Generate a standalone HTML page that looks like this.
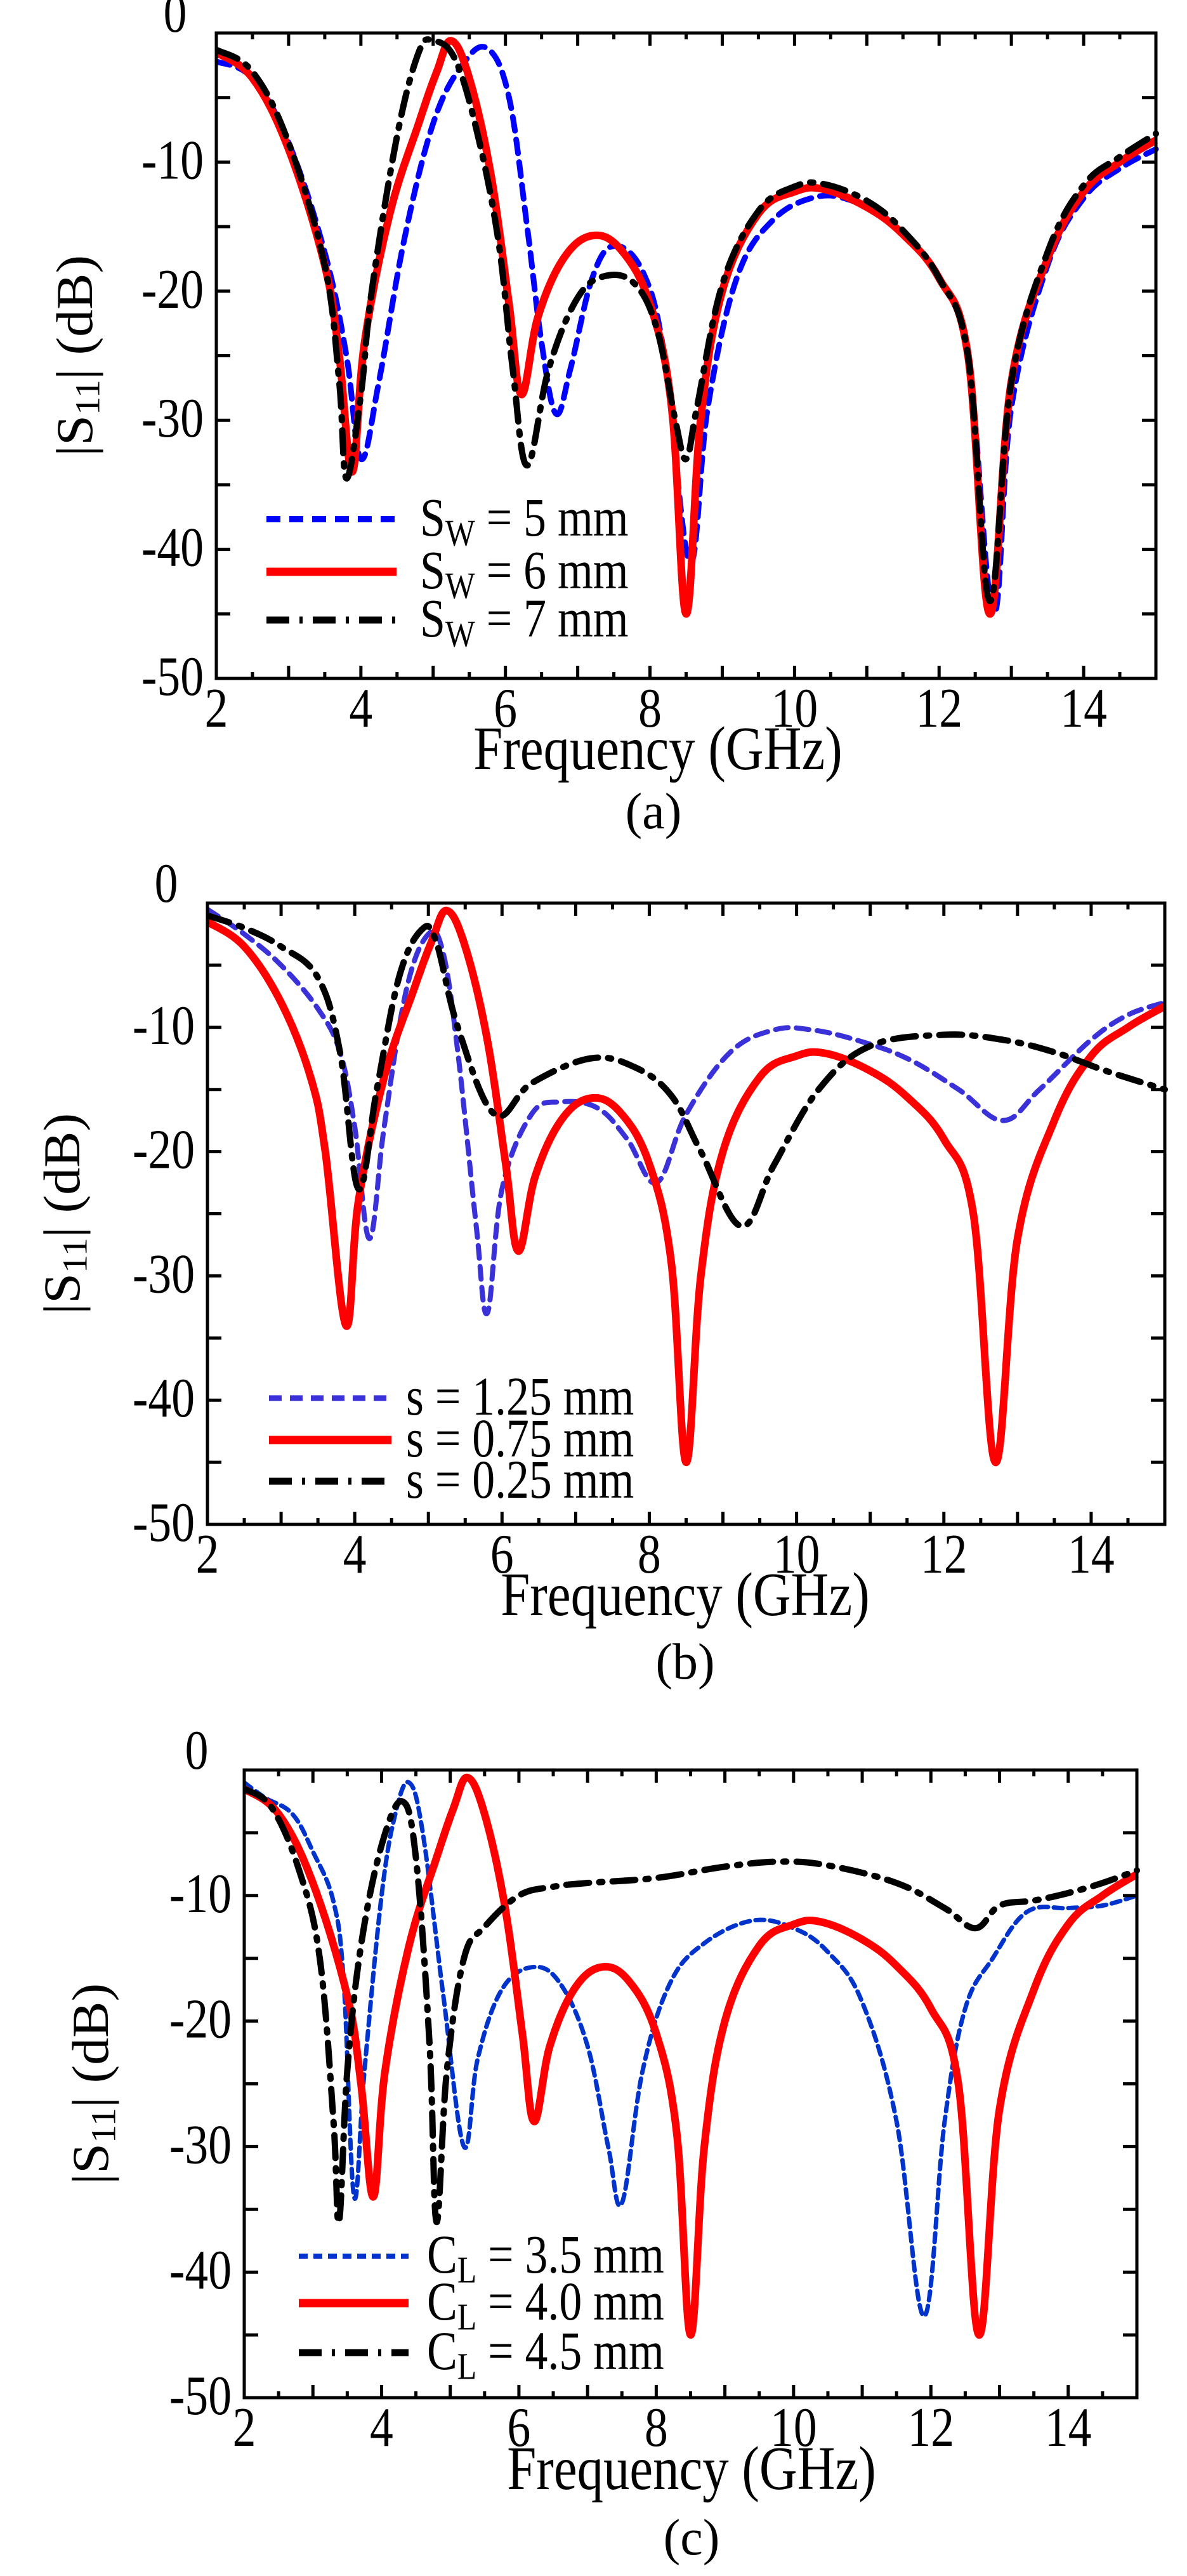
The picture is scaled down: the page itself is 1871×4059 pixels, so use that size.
<!DOCTYPE html>
<html><head><meta charset="utf-8"><style>
html,body{margin:0;padding:0;background:#fff;}
svg{display:block;}
text{font-family:"Liberation Serif",serif;fill:#000;}
</style></head><body>
<svg id="s" width="1871" height="4059" viewBox="0 0 1871 4059" xmlns="http://www.w3.org/2000/svg">
<text x="1037" y="1212" font-size="90" text-anchor="middle" transform="translate(1037,1212) scale(0.92,1.08) translate(-1037,-1212)">Frequency (GHz)</text>
<text x="1030" y="1305" font-size="80" text-anchor="middle">(a)</text>
<text x="1080" y="2545" font-size="90" text-anchor="middle" transform="translate(1080,2545) scale(0.92,1.08) translate(-1080,-2545)">Frequency (GHz)</text>
<text x="1080" y="2645" font-size="80" text-anchor="middle">(b)</text>
<text x="1090" y="3922" font-size="90" text-anchor="middle" transform="translate(1090,3922) scale(0.92,1.08) translate(-1090,-3922)">Frequency (GHz)</text>
<text x="1090" y="4025" font-size="80" text-anchor="middle">(c)</text>
</svg>
<script>
const NS="http://www.w3.org/2000/svg";const S=document.getElementById('s');
function el(t,a,txt){const e=document.createElementNS(NS,t);for(const k in a)e.setAttribute(k,a[k]);if(txt!==undefined)e.textContent=txt;S.appendChild(e);return e;}
const red=[[2,-1.5],[2.5,-3.5],[3,-9],[3.5,-18],[3.7,-25],[3.88,-34],[4.05,-24],[4.4,-14],[4.8,-7],[5.05,-3],[5.25,-0.6],[5.5,-3.5],[5.8,-11],[6.05,-21],[6.22,-28],[6.45,-22],[6.8,-17.5],[7.2,-15.7],[7.6,-16.8],[8,-21],[8.3,-29],[8.5,-45],[8.7,-30],[9,-20],[9.5,-14],[10,-12.3],[10.4,-12.1],[11,-13.5],[11.5,-15.6],[12,-19],[12.4,-25],[12.7,-45],[13,-27],[13.5,-17.5],[14,-12.3],[14.5,-10],[15,-8.3]];
const A=[
 {c:'#0000ff',w:9,d:'22 14',p:[[2,-2.2],[2.5,-3.5],[3,-8.5],[3.5,-17],[3.8,-25],[4.0,-33],[4.25,-27],[4.6,-16],[5,-7],[5.4,-2.5],[5.75,-1.2],[6.05,-5],[6.3,-15],[6.5,-24],[6.7,-29.5],[6.9,-26],[7.2,-19],[7.5,-16.5],[7.9,-18.5],[8.2,-25],[8.55,-41],[8.8,-29],[9.2,-19],[9.7,-14.5],[10.3,-12.7],[10.8,-13],[11.3,-14.5],[12,-19],[12.4,-25],[12.75,-45],[13,-29],[13.5,-18],[14,-12.8],[14.5,-10.5],[15,-9]]},
 {c:'#ff0000',w:12,d:'',p:red},
 {c:'#000',w:10,d:'36 16 5 16',p:[[2,-1.3],[2.5,-3],[3,-8.5],[3.5,-18],[3.7,-27],[3.8,-34.5],[4.0,-28],[4.15,-20],[4.5,-8],[4.8,-1.5],[5.0,-0.6],[5.3,-2],[5.6,-7.5],[5.9,-16],[6.1,-26],[6.3,-33.5],[6.6,-26],[7.0,-20.5],[7.4,-18.8],[7.8,-19.5],[8.1,-23],[8.35,-30],[8.5,-33],[8.65,-29],[9,-19.5],[9.5,-13.8],[10,-11.9],[10.4,-11.7],[11,-13],[11.5,-15.3],[12,-19],[12.4,-25],[12.7,-44],[13,-27],[13.5,-17],[14,-11.8],[14.5,-9.6],[15,-7.8]]}
];
const B=[
 {c:'#3a32d8',w:8,d:'20 13',p:[[2,-0.5],[2.5,-2.5],[3,-5],[3.5,-8.5],[3.8,-12],[4.0,-18],[4.2,-27],[4.4,-18],[4.7,-7],[5.0,-2.5],[5.2,-4],[5.4,-12],[5.65,-26],[5.8,-33],[6.0,-23],[6.4,-17],[6.8,-16],[7.3,-16.5],[7.7,-19],[8.1,-22.5],[8.5,-17],[9.1,-12],[9.7,-10.2],[10.2,-10.2],[10.8,-11],[11.5,-12.5],[12.2,-15],[12.8,-17.5],[13.3,-15],[14,-11],[14.5,-9],[15,-8]]},
 {c:'#ff0000',w:12,d:'',p:[[2,-1.5],[2.5,-3.5],[3,-8],[3.4,-14],[3.6,-20],[3.88,-34],[4.05,-24],[4.4,-14],[4.8,-7],[5.05,-3],[5.25,-0.6],[5.5,-3.5],[5.8,-11],[6.05,-21],[6.22,-28],[6.45,-22],[6.8,-17.5],[7.2,-15.7],[7.6,-16.8],[8,-21],[8.3,-29],[8.5,-45],[8.7,-30],[9,-20],[9.5,-14],[10,-12.3],[10.4,-12.1],[11,-13.5],[11.5,-15.6],[12,-19],[12.4,-25],[12.7,-45],[13,-27],[13.5,-17.5],[14,-12.3],[14.5,-10],[15,-8.3]]},
 {c:'#000',w:10,d:'36 16 5 16',p:[[2,-1],[2.5,-2],[3,-3.5],[3.5,-6],[3.8,-12],[4.05,-23],[4.3,-15],[4.6,-6],[4.9,-2.2],[5.1,-3],[5.4,-10],[5.9,-17],[6.4,-14.5],[7.2,-12.5],[7.8,-13.2],[8.3,-15.5],[8.7,-20],[9.25,-26],[9.7,-21],[10.3,-15],[11,-11.5],[12,-10.6],[12.8,-11],[13.5,-12],[14.2,-13.5],[15,-15]]}
];
const C=[
 {c:'#0033cc',w:7,d:'14 9',p:[[2,-1],[2.3,-2.2],[2.7,-3.5],[3.0,-6.5],[3.3,-10.5],[3.45,-17],[3.6,-34],[3.75,-24],[4.0,-10],[4.2,-3.5],[4.4,-1],[4.6,-5],[4.9,-18],[5.2,-30],[5.4,-23],[5.75,-17.5],[6.2,-15.7],[6.6,-17],[7.0,-22],[7.3,-30],[7.5,-34.5],[7.8,-24],[8.2,-17],[8.7,-13.8],[9.4,-12],[10,-12.6],[10.5,-14.5],[11,-18.5],[11.5,-28],[11.9,-43.5],[12.2,-28],[12.5,-19],[12.9,-15],[13.4,-11.3],[14,-11],[14.5,-10.8],[15,-10]]},
 {c:'#ff0000',w:12,d:'',p:red},
 {c:'#000',w:10,d:'36 16 5 16',p:[[2,-1.5],[2.4,-3],[2.8,-8],[3.1,-15],[3.3,-28],[3.38,-36],[3.5,-24],[3.7,-14],[4.0,-6],[4.3,-2.5],[4.5,-7],[4.7,-22],[4.8,-36],[4.95,-24],[5.2,-15],[5.5,-12.5],[6,-10],[6.5,-9.3],[7,-9],[8,-8.6],[9,-7.7],[9.8,-7.3],[10.5,-7.6],[11.5,-9],[12.2,-11],[12.65,-12.6],[13,-10.8],[13.5,-10.4],[14,-9.8],[14.5,-9],[15,-8]]}
];
function T(x,y){return `translate(${x},${y}) scale(0.92,1.1) translate(${-x},${-y})`;}
function plot(o){
 const {x0,x1,y0,y1}=o;const X=f=>x0+(f-2)/13*(x1-x0),Y=d=>y0+(-d)/50*(y1-y0);
 const cp=`cp${y0}`;const defs=document.createElementNS(NS,'clipPath');defs.setAttribute('id',cp);
 const r=document.createElementNS(NS,'rect');r.setAttribute('x',x0);r.setAttribute('y',y0-10);r.setAttribute('width',x1-x0+8);r.setAttribute('height',y1-y0+10);defs.appendChild(r);S.appendChild(defs);
 o.series.forEach(s=>{
  const P=s.p.map(q=>[X(q[0]),Y(q[1])]);let d=`M${P[0][0]},${P[0][1]}`;
  for(let i=0;i<P.length-1;i++){const p0=P[Math.max(0,i-1)],p1=P[i],p2=P[i+1],p3=P[Math.min(P.length-1,i+2)];const t=0.18;
   d+=` C${p1[0]+(p2[0]-p0[0])*t},${p1[1]+(p2[1]-p0[1])*t} ${p2[0]-(p3[0]-p1[0])*t},${p2[1]-(p3[1]-p1[1])*t} ${p2[0]},${p2[1]}`;}
  const a={d,fill:'none',stroke:s.c,'stroke-width':s.w,'stroke-linecap':s.d?'round':'butt','stroke-linejoin':'round','clip-path':`url(#${cp})`};if(s.d)a['stroke-dasharray']=s.d;el('path',a);
 });
 for(let f=2;f<=15.001;f+=0.5){const x=X(f),L=Math.abs(f-Math.round(f))<1e-6?20:10;el('line',{x1:x,y1:y1,x2:x,y2:y1-L,stroke:'#000','stroke-width':5});el('line',{x1:x,y1:y0,x2:x,y2:y0+L,stroke:'#000','stroke-width':5});}
 for(let d=0;d>=-50;d-=5){const y=Y(d);el('line',{x1:x0,y1:y,x2:x0+22,y2:y,stroke:'#000','stroke-width':5});el('line',{x1:x1,y1:y,x2:x1-22,y2:y,stroke:'#000','stroke-width':5});}
 el('rect',{x:x0,y:y0,width:x1-x0,height:y1-y0,fill:'none',stroke:'#000','stroke-width':5});
 for(let d=0;d>=-50;d-=10){const tx=d==0?x0-(o.zx||45):x0-20,ty=Y(d)+(d==0?-2:26);el('text',{x:tx,y:ty,'font-size':80,'text-anchor':d==0?'middle':'end',transform:T(tx,ty)},String(d));}
 for(let f=2;f<=14;f+=2){el('text',{x:X(f),y:y1+76,'font-size':80,'text-anchor':'middle',transform:T(X(f),y1+76)},String(f));}
 el('text',{transform:`translate(${o.lx},${(y0+y1)/2}) rotate(-90) scale(1,0.95)`,'font-size':86,'text-anchor':'middle'}).innerHTML=`|S<tspan font-size="58" dy="12">11</tspan><tspan dy="-12">| (dB)</tspan>`;
 o.leg.forEach((g,i)=>{const s=o.series[i];el('line',{x1:g[0],y1:g[1],x2:g[2],y2:g[1],stroke:s.c,'stroke-width':s.w+1,'stroke-dasharray':s.d||'none'});
  el('text',{x:g[3],y:g[1]+26,'font-size':78,transform:T(g[3],g[1]+26)}).innerHTML=g[4];});
}
plot({x0:341,x1:1822,y0:52,y1:1069,lx:145,zx:65,series:A,leg:[[420,818,625],[420,901,625],[420,977,625]].map((g,i)=>[g[0],g[1],g[2],662,`S<tspan font-size="54" dy="14">W</tspan><tspan dy="-14"> = ${5+i} mm</tspan>`])});
plot({x0:327,x1:1836,y0:1423,y1:2402,lx:125,zx:65,series:B,leg:[[424,2203,617,640,'s = 1.25 mm'],[424,2269,617,640,'s = 0.75 mm'],[424,2334,617,640,'s = 0.25 mm']]});
plot({x0:385,x1:1792,y0:2789,y1:3778,lx:170,zx:75,series:C,leg:['3.5','4.0','4.5'].map((v,i)=>[471,[3555,3629,3707][i],644,673,`C<tspan font-size="54" dy="14">L</tspan><tspan dy="-14"> = ${v} mm</tspan>`])});
</script>
</body></html>
